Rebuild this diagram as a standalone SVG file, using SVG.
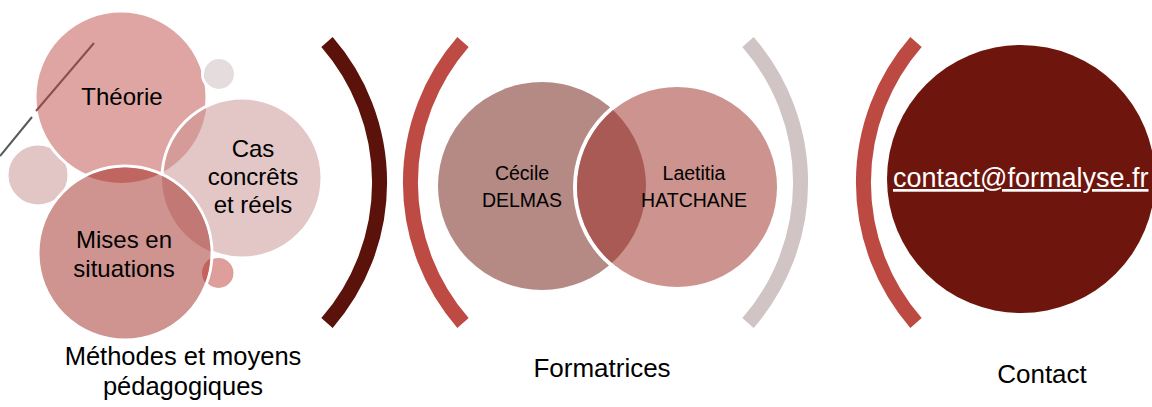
<svg xmlns="http://www.w3.org/2000/svg" width="1152" height="407" viewBox="0 0 1152 407">
<style>
text{font-family:"Liberation Sans",Arial,sans-serif;fill:#000;text-anchor:middle}
.lbl{font-size:26px}
.n1{font-size:24px}
.n2{font-size:19.5px}
.ws{stroke:#fff;stroke-width:3}
.br{fill:none;stroke-width:15}
</style>
<defs>
<clipPath id="cpC"><circle cx="242" cy="178" r="78.5"/></clipPath>
<clipPath id="cpM"><circle cx="125" cy="253" r="85.5"/></clipPath>
<clipPath id="cpST"><circle cx="219" cy="74" r="15"/></clipPath>
<clipPath id="cpL"><circle cx="677" cy="187" r="100"/></clipPath>
</defs>
<g id="connectors">
<line x1="32" y1="117" x2="0" y2="156" stroke="#595959" stroke-width="2"/>
<path class="br" d="M327,42 A214,214 0 0 1 327,323" stroke="#5B120A"/>
<path class="br" d="M463,42 A214,214 0 0 0 463,323" stroke="#BE4B43"/>
<path class="br" d="M748,42 A214,214 0 0 1 748,323" stroke="#D0C4C4"/>
<path class="br" d="M916,42 A214,214 0 0 0 916,323" stroke="#BC4A42"/>
</g>
<g id="node-small-left"><circle class="ws" cx="38" cy="175" r="31" fill="#E2C5C5"/></g>
<g id="node-theorie">
<circle class="ws" cx="121" cy="97" r="86" fill="#DEA5A3"/>
<line x1="94" y1="43" x2="36" y2="111" stroke="#8A4E4C" stroke-width="2"/>
<text class="n1" x="122" y="105">Théorie</text>
</g>
<g id="node-small-top">
<circle class="ws" cx="219" cy="74" r="16.5" fill="#E5DCDD"/>
<circle cx="121" cy="97" r="86" fill="#DFC6C5" clip-path="url(#cpST)"/>
</g>
<g id="node-cas">
<circle class="ws" cx="242" cy="178" r="80" fill="#E3C6C6"/>
<circle cx="121" cy="97" r="86" fill="#D59B98" clip-path="url(#cpC)"/>
<text class="n1" x="253" y="157">Cas</text>
<text class="n1" x="253" y="185">concrêts</text>
<text class="n1" x="253" y="213">et réels</text>
</g>
<g id="node-small-bottom"><circle class="ws" cx="218.5" cy="273" r="16.5" fill="#DE9E9B"/></g>
<g id="node-mises">
<circle class="ws" cx="125" cy="253" r="87" fill="#CF948F"/>
<circle cx="242" cy="178" r="80" fill="#C27874" clip-path="url(#cpM)"/>
<circle cx="121" cy="97" r="86" fill="#BF6661" clip-path="url(#cpM)"/>
<g clip-path="url(#cpM)"><circle cx="121" cy="97" r="86" fill="#B4605B" clip-path="url(#cpC)"/></g>
<circle cx="218.5" cy="273" r="16.5" fill="#C4625D" clip-path="url(#cpM)"/>
<text class="n1" x="124" y="248">Mises en</text>
<text class="n1" x="124" y="277">situations</text>
</g>
<g id="node-cecile">
<circle cx="542" cy="186" r="104" fill="#B58A84"/>
<text class="n2" x="522" y="180">Cécile</text>
<text class="n2" x="522" y="207">DELMAS</text>
</g>
<g id="node-laetitia">
<circle cx="677" cy="187" r="102" fill="#CD948F" stroke="#fff" stroke-width="4"/>
<circle cx="542" cy="186" r="104" fill="#A95A54" clip-path="url(#cpL)"/>
<text class="n2" x="694" y="180">Laetitia</text>
<text class="n2" x="694" y="207">HATCHANE</text>
</g>
<g id="node-contact">
<circle cx="1021" cy="179" r="134" fill="#6E160D"/>
<text x="893" y="187" style="font-size:27px;fill:#fff;text-anchor:start;text-decoration:underline">contact@formalyse.fr</text>
</g>
<g id="labels">
<text class="lbl" x="183" y="365" style="font-size:25.5px">Méthodes et moyens</text>
<text class="lbl" x="183" y="395" style="font-size:25.5px">pédagogiques</text>
<text class="lbl" x="602" y="377">Formatrices</text>
<text class="lbl" x="1042" y="383">Contact</text>
</g>
</svg>
